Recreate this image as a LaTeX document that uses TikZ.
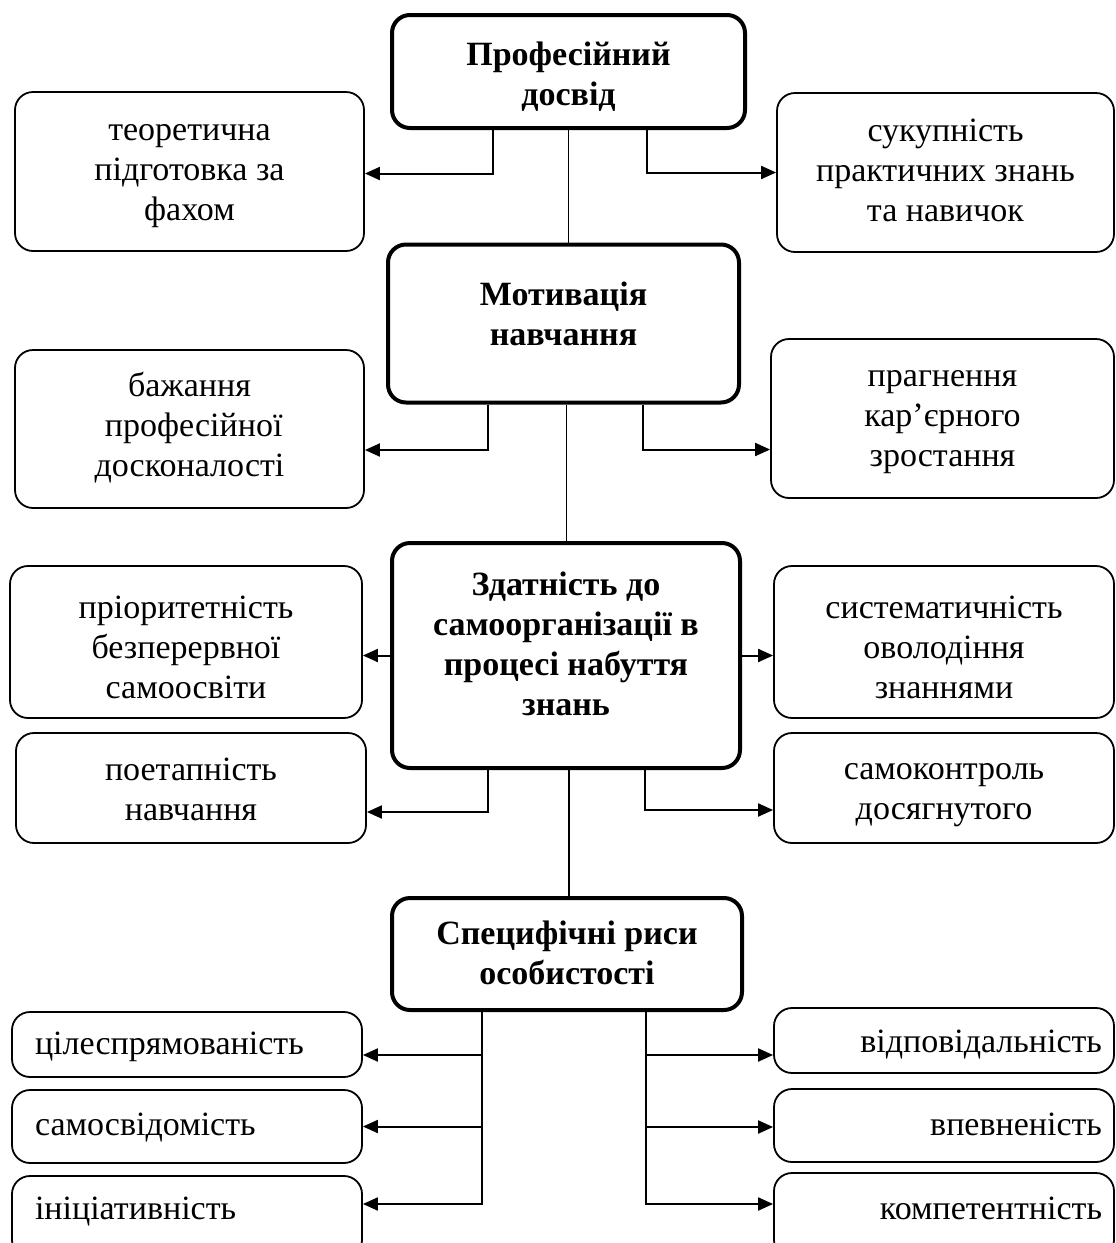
\documentclass[tikz,border=0pt]{standalone}
\usepackage{fontspec}
\setmainfont{Liberation Serif}
\usetikzlibrary{arrows.meta, positioning}

\begin{document}
\begin{tikzpicture}[
    x=1pt, y=-1pt,
    mainbox/.style={rectangle, draw=black, line width=4pt, rounded corners=18pt, inner sep=0pt, align=center, text depth=0pt, font=\fontsize{34}{40}\selectfont\bfseries},
    leafbox/.style={rectangle, draw=black, line width=1.8pt, rounded corners=18pt, inner sep=0pt, align=center, text depth=0pt, font=\fontsize{34}{40}\selectfont},
    leftbox/.style={leafbox, minimum width=350pt, inner xsep=23pt, text width=304pt, align=left},
    rightbox/.style={leafbox, minimum width=340pt, inner xsep=12pt, text width=316pt, align=right},
    arrow/.style={-{Triangle[length=15pt, width=13pt]}, line width=2pt},
    link/.style={line width=1.8pt}
]

\path[use as bounding box, clip] (0,0) rectangle (1116,1243);

% Professional experience
\node[mainbox, minimum width=353pt, minimum height=113pt, text height=67pt] (prof) at (568.5,71.5) {Професійний\\досвід};
\node[leafbox, minimum width=349pt, minimum height=159pt, text height=97pt] (teor) at (189.5,171.5) {теоретична\\підготовка за\\фахом};
\node[leafbox, minimum width=337pt, minimum height=159pt, text height=97pt] (sukup) at (945.5,172.5) {сукупність\\практичних знань\\та навичок};

% Motivation
\node[mainbox, minimum width=351pt, minimum height=158pt, text height=44pt] (motiv) at (563.5,323.5) {Мотивація\\навчання};
\node[leafbox, minimum width=349pt, minimum height=158pt, text height=94pt] (bazh) at (189.5,429) {бажання\\\hspace*{0.25em}професійної\\досконалості};
\node[leafbox, minimum width=343pt, minimum height=159pt, text height=96pt] (pragn) at (942.5,418.5) {прагнення\\кар’єрного\\зростання};

% Self-organization
\node[mainbox, minimum width=348pt, minimum height=225pt, text height=120pt] (zdat) at (566,655.5) {Здатність до\\самоорганізації в\\процесі набуття\\знань};
\node[leafbox, minimum width=352pt, minimum height=152pt, text height=112pt] (prior) at (186,642) {пріоритетність\\безперервної\\самоосвіти};
\node[leafbox, minimum width=340pt, minimum height=152pt, text height=112pt] (system) at (944,642) {систематичність\\оволодіння\\знаннями};
\node[leafbox, minimum width=350pt, minimum height=110pt, text height=64pt] (poetap) at (191,788) {поетапність\\навчання};
\node[leafbox, minimum width=340pt, minimum height=110pt, text height=62pt] (samokon) at (944,788) {самоконтроль\\досягнутого};

% Specific features
\node[mainbox, minimum width=350pt, minimum height=112pt, text height=61pt] (specif) at (567,954) {Специфічні риси\\особистості};
\node[leftbox, minimum height=65pt, text height=19pt] (tsil) at (187,1044.5) {цілеспрямованість};
\node[leftbox, minimum height=73pt, text height=17pt] (samosv) at (187,1126.5) {самосвідомість};
\node[leftbox, minimum height=82pt, text height=4pt] (inits) at (187,1217) {ініціативність};
\node[rightbox, minimum height=65pt, text height=23pt] (vidpov) at (944,1040.5) {відповідальність};
\node[rightbox, minimum height=73pt, text height=19pt] (vpevn) at (944,1125.5) {впевненість};
\node[rightbox, minimum height=85pt, text height=7pt] (kompet) at (944,1215.5) {компетентність};

% connections
\draw[arrow] ([xshift=-76pt]prof.south) |- ([yshift=-2pt]teor.east);
\draw[arrow] ([xshift=78pt]prof.south) |- (sukup.west);
\draw[link] (prof.south) -- (prof.south |- motiv.north);

\draw[arrow] ([xshift=-76pt]motiv.south) |- ([yshift=-21pt]bazh.east);
\draw[arrow] ([xshift=79pt]motiv.south) |- ([yshift=-31pt]pragn.west);
\draw[link] ([xshift=3pt]motiv.south) -- ([xshift=3pt]motiv.south |- zdat.north);

\draw[arrow] (zdat.west) -- (zdat.west -| prior.east);
\draw[arrow] (zdat.east) -- (zdat.east -| system.west);
\draw[arrow] ([xshift=-78pt]zdat.south) |- ([yshift=-24pt]poetap.east);
\draw[arrow] ([xshift=79pt]zdat.south) |- ([yshift=-22pt]samokon.west);
\draw[link] ([xshift=3pt]zdat.south) -- ([xshift=3pt]zdat.south |- specif.north);

\draw[arrow] ([xshift=-85pt]specif.south) |- ([yshift=-10.5pt]tsil.east);
\draw[arrow] ([xshift=-85pt]specif.south) |- (samosv.east);
\draw[arrow] ([xshift=-85pt]specif.south) |- ([yshift=13pt]inits.east);
\draw[arrow] ([xshift=79pt]specif.south) |- ([yshift=-14.5pt]vidpov.west);
\draw[arrow] ([xshift=79pt]specif.south) |- ([yshift=-1.5pt]vpevn.west);
\draw[arrow] ([xshift=79pt]specif.south) |- ([yshift=11.5pt]kompet.west);
\end{tikzpicture}
\end{document}
